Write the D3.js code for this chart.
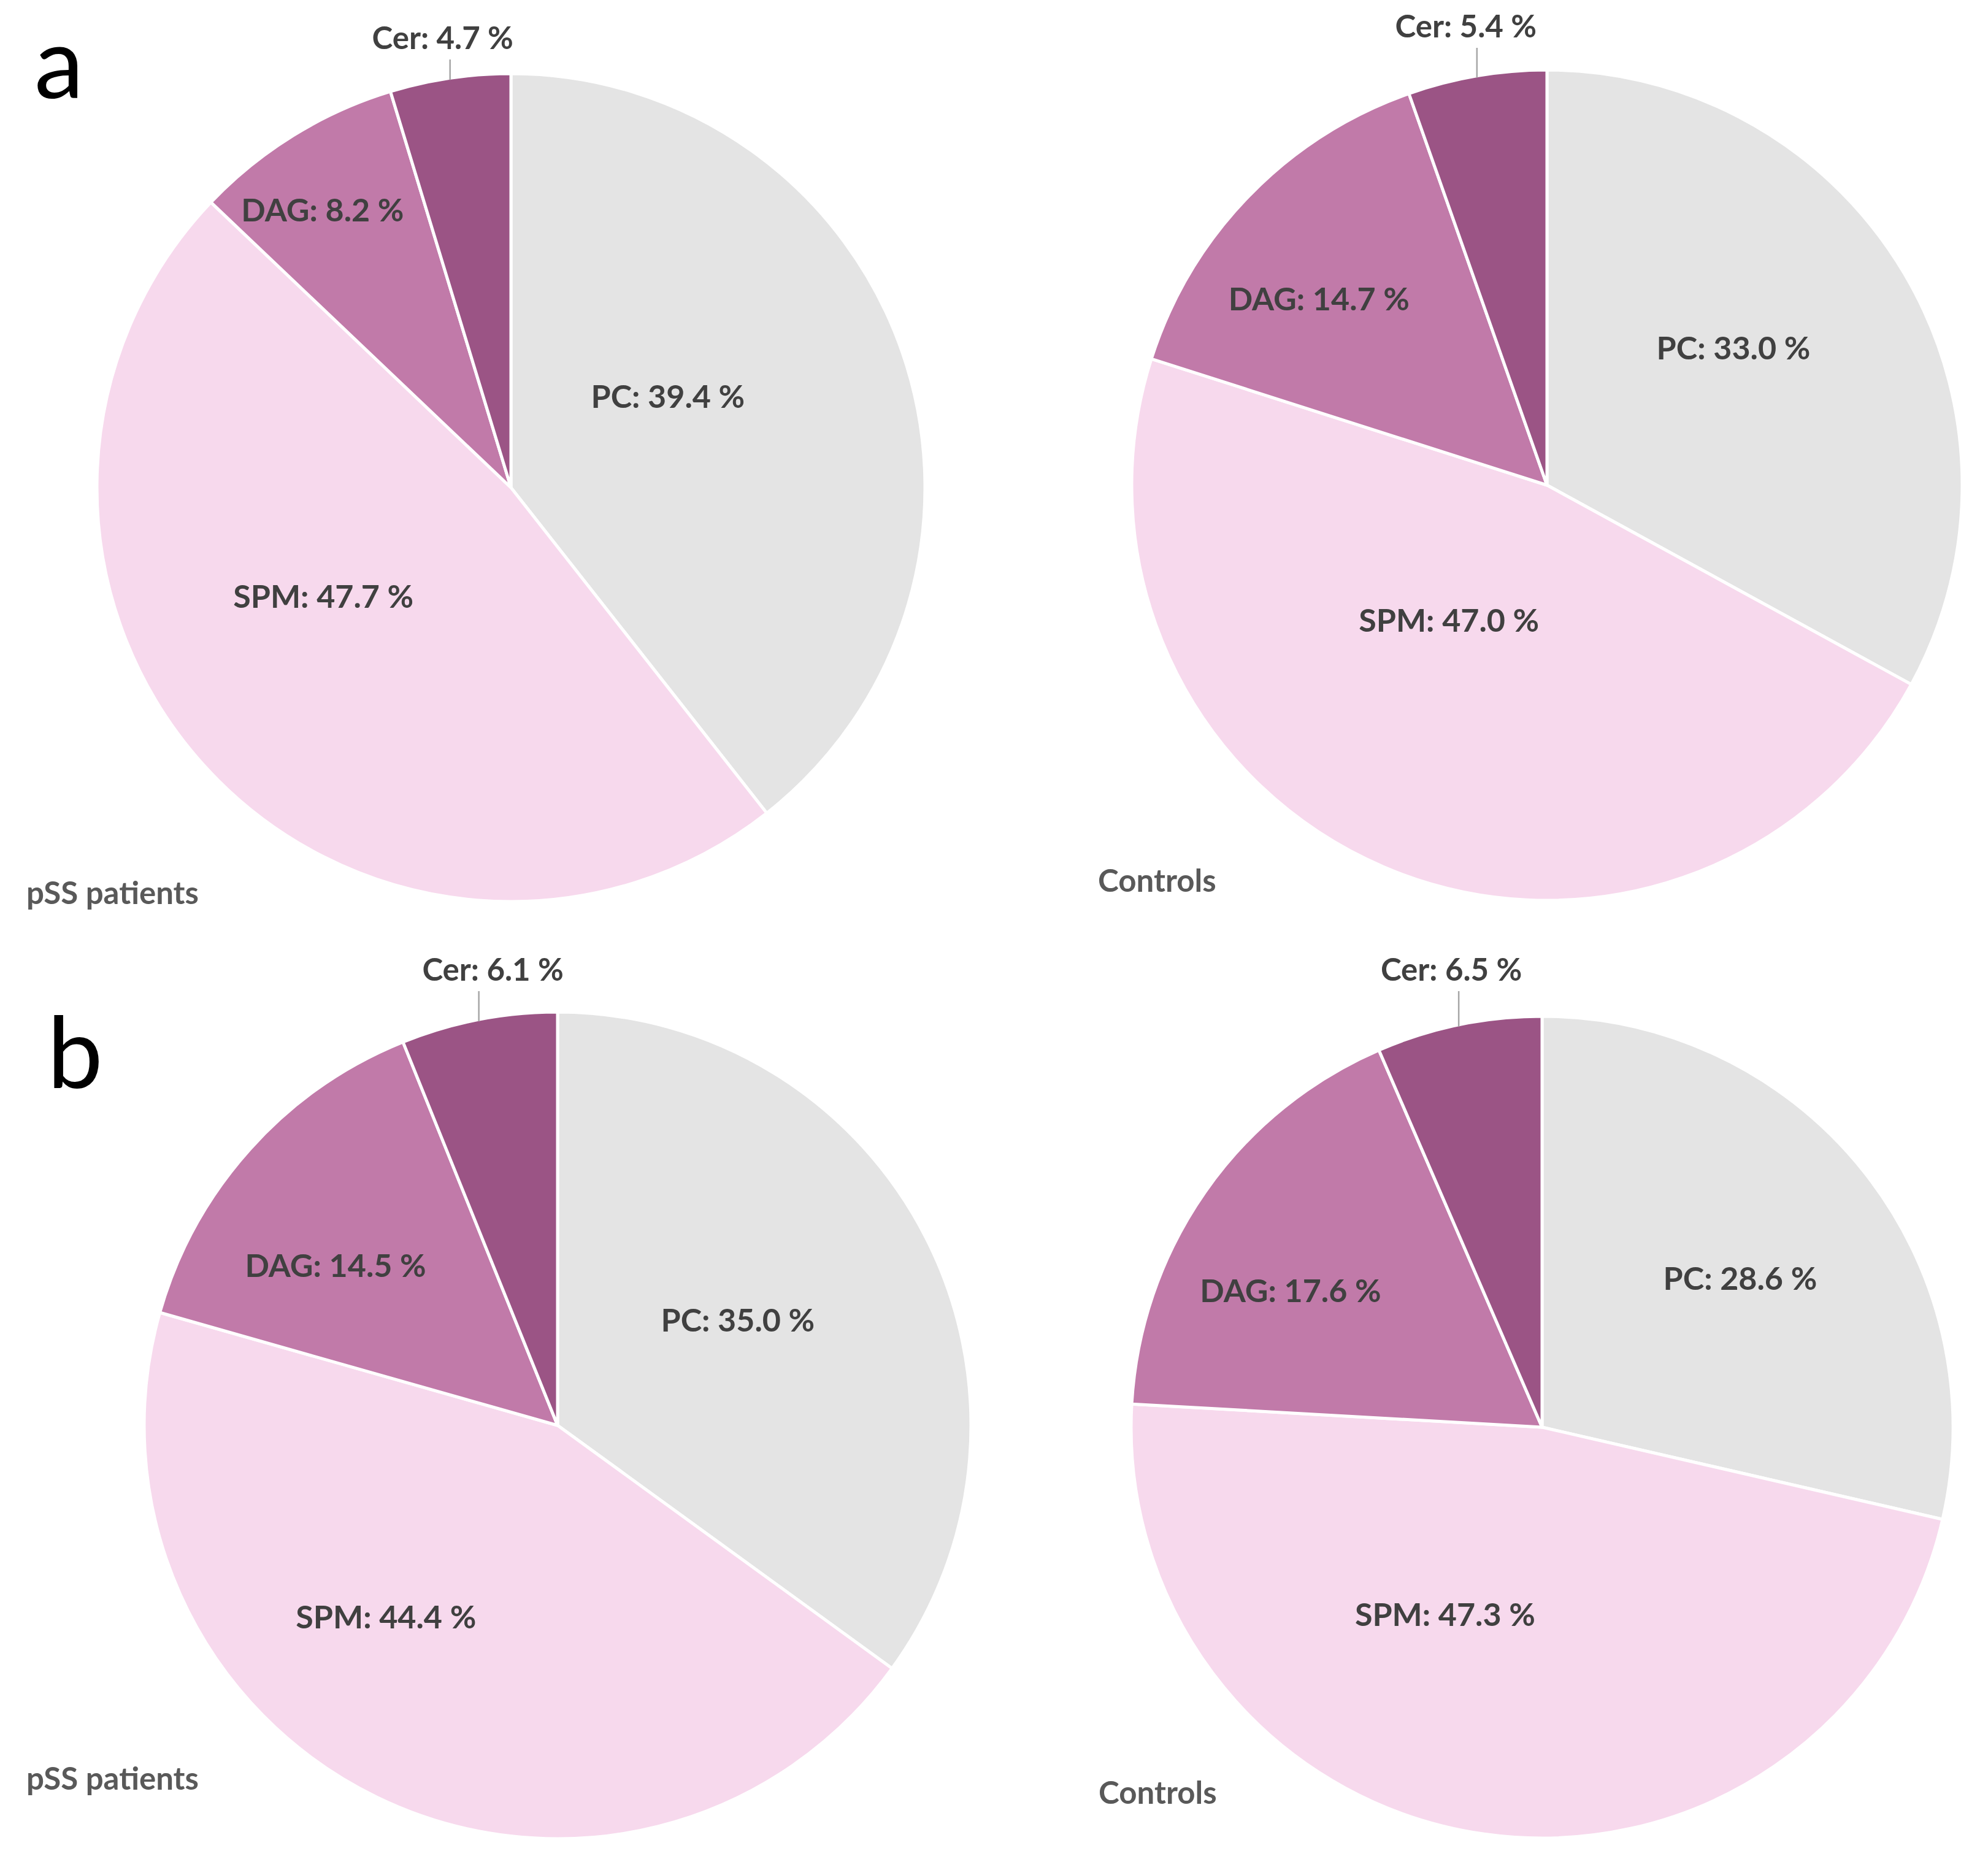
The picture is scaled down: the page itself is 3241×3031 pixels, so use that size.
<!DOCTYPE html>
<html>
<head>
<meta charset="utf-8">
<script src="https://cdn.jsdelivr.net/npm/d3@7"></script>
<style>
  body { margin: 0; background: #fff; }
  svg { display: block; font-family: Lato, "Open Sans", sans-serif; }
  .slice-label { font-weight: 700; fill: #404040; }
  .group-label { font-weight: 700; fill: #595959; }
  .panel-letter { font-weight: 400; fill: #000; }
</style>
</head>
<body>
<div id="chart"></div>
<script>
// lipid classes, clockwise from 12 o'clock
const lipidClasses = ["PC", "SPM", "DAG", "Cer"];
const classColors = ["#e4e4e4", "#f7d9ed", "#c17aa9", "#9b5485"];

// percentages
const pssA = [39.4, 47.7, 8.2, 4.7];
const controlsA = [33.0, 47.0, 14.7, 5.4];
const pssB = [35.0, 44.4, 14.5, 6.1];
const controlsB = [28.6, 47.3, 17.6, 6.5];

const panelLetters = ["a", "b"];
const groupNames = ["pSS patients", "Controls"];

const width = 3241;
const height = 3031;

// layout: centre, radius, inside label offsets (fraction of r) and Cer label
const pies = [
  {
    values: pssA, group: 0, cx: 833, cy: 795, r: 675,
    inside: [[0.379, -0.221], [-0.453, 0.262], [-0.455, -0.671]],
    cer: { dx: -12, baseline: -715 },
    caption: [43, 1474],
  },
  {
    values: controlsA, group: 1, cx: 2522, cy: 791, r: 677,
    inside: [[0.449, -0.331], [-0.236, 0.325], [-0.549, -0.449]],
    cer: { dx: -18, baseline: -730 },
    caption: [1790, 1454],
  },
  {
    values: pssB, group: 0, cx: 909, cy: 2324, r: 674,
    inside: [[0.436, -0.255], [-0.415, 0.464], [-0.537, -0.387]],
    cer: { dx: 23, baseline: -725 },
    caption: [43, 2918],
  },
  {
    values: controlsB, group: 1, cx: 2514, cy: 2327, r: 670,
    inside: [[0.482, -0.363], [-0.236, 0.455], [-0.612, -0.333]],
    cer: { dx: -12, baseline: -728 },
    caption: [1791, 2941],
  },
];

const letterPos = [[56, 160], [77, 1774]];

const svg = d3
  .select("#chart")
  .append("svg")
  .attr("width", width)
  .attr("height", height);

const color = d3.scaleOrdinal().domain(lipidClasses).range(classColors);
const pct = d3.format(".1f");

const pie = d3
  .pie()
  .sort(null)
  .value((d) => d.value);

pies.forEach((p) => {
  const data = lipidClasses.map((name, i) => ({ name, value: p.values[i] }));
  const arcs = pie(data);
  const arc = d3.arc().innerRadius(0).outerRadius(p.r);

  const g = svg
    .append("g")
    .attr("transform", `translate(${p.cx}, ${p.cy})`);

  g.selectAll(".slice")
    .data(arcs)
    .enter()
    .append("path")
    .attr("class", "slice")
    .attr("d", arc)
    .attr("fill", (d) => color(d.data.name))
    .attr("stroke", "#fff")
    .attr("stroke-width", 5)
    .attr("stroke-linejoin", "round");

  // labels inside the three big slices
  g.selectAll(".slice-label")
    .data(arcs.slice(0, 3))
    .enter()
    .append("text")
    .attr("class", "slice-label")
    .attr("x", (d, i) => p.inside[i][0] * p.r)
    .attr("y", (d, i) => p.inside[i][1] * p.r)
    .attr("dy", "0.36em")
    .attr("text-anchor", "middle")
    .attr("font-size", 52)
    .text((d) => `${d.data.name}: ${pct(d.data.value)} %`);

  // Cer label sits above the pie with a leader line
  const cer = arcs[3];
  const mid = (cer.startAngle + cer.endAngle) / 2;
  const lx = Math.sin(mid) * p.r;
  const ly = -Math.cos(mid) * p.r;

  g.append("line")
    .attr("x1", lx)
    .attr("y1", ly + 3)
    .attr("x2", lx)
    .attr("y2", p.cer.baseline + 17)
    .attr("stroke", "#a6a6a6")
    .attr("stroke-width", 2.5);

  g.append("text")
    .attr("class", "slice-label")
    .attr("x", lx + p.cer.dx)
    .attr("y", p.cer.baseline)
    .attr("text-anchor", "middle")
    .attr("font-size", 51)
    .text(`${cer.data.name}: ${pct(cer.data.value)} %`);

  svg
    .append("text")
    .attr("class", "group-label")
    .attr("x", p.caption[0])
    .attr("y", p.caption[1])
    .attr("font-size", 51)
    .text(groupNames[p.group]);
});

svg
  .selectAll(".panel-letter")
  .data(panelLetters)
  .enter()
  .append("text")
  .attr("class", "panel-letter")
  .attr("x", (d, i) => letterPos[i][0])
  .attr("y", (d, i) => letterPos[i][1])
  .attr("font-size", 162)
  .text((d) => d);
</script>
</body>
</html>
